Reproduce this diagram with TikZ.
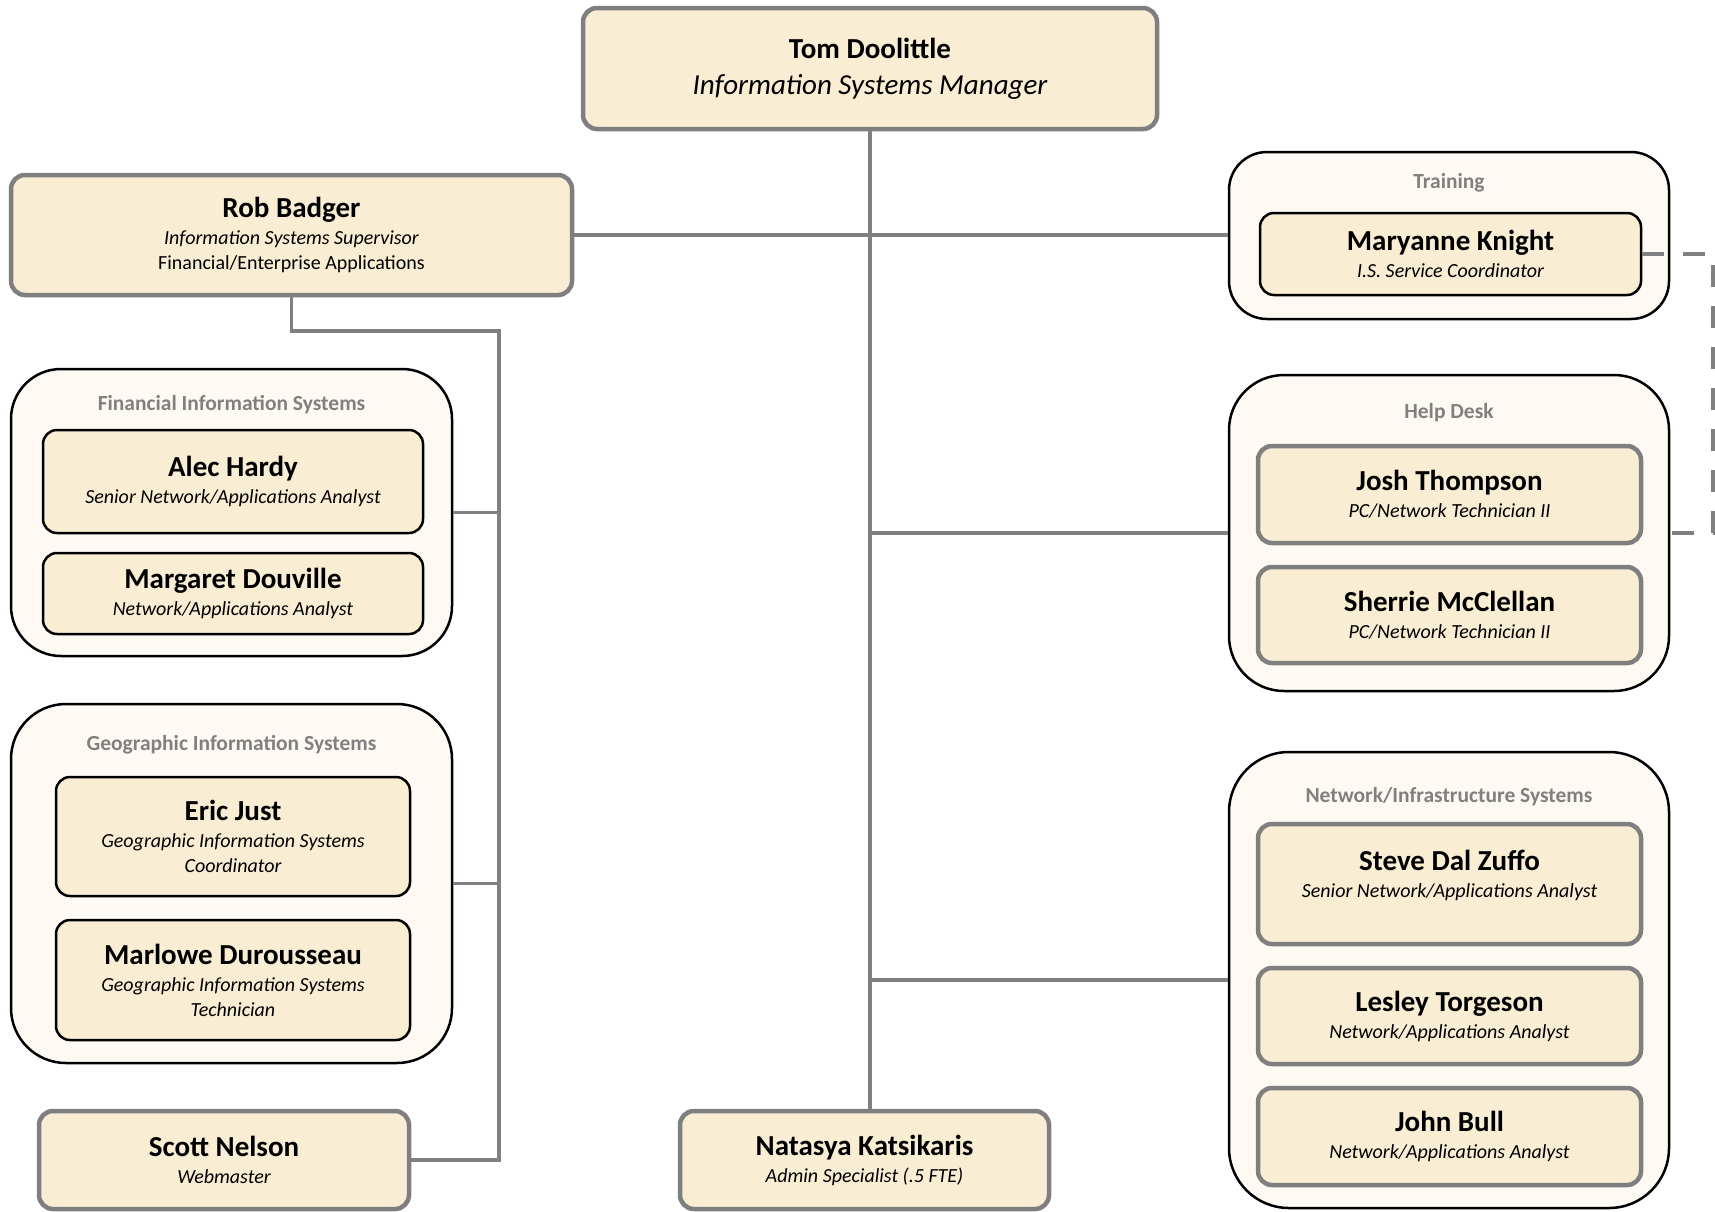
\documentclass[tikz,border=0pt]{standalone}
\usepackage{fontspec}
\setmainfont{Carlito}
\usetikzlibrary{positioning}

\definecolor{boxfill}{HTML}{F9EDD4}
\definecolor{groupfill}{HTML}{FEFAF3}
\definecolor{boxgray}{HTML}{7F7F7F}
\definecolor{linegray}{HTML}{808080}
\definecolor{labelgray}{HTML}{808080}

\begin{document}
\begin{tikzpicture}[x=1pt,y=-1pt,
    person/.style={draw=boxgray,line width=4.5pt,fill=boxfill,rounded corners=14pt,
      inner sep=0pt,align=center,font=\fontsize{20}{27}\selectfont},
    personb/.style={person,draw=black,line width=2.5pt},
    group/.style={draw=black,line width=2.5pt,fill=groupfill,inner sep=0pt},
    grouplabel/.style={text=labelgray,font=\fontsize{21.5}{24}\selectfont\bfseries},
    link/.style={draw=linegray,line width=3.3pt},
    dashlink/.style={link,line width=4pt,dash pattern=on 22pt off 19pt}]
  \useasboundingbox (0,0) rectangle (1715,1211);

  % manager and supervisor
  \node[person,minimum width=574,minimum height=121,font=\fontsize{29}{36}\selectfont] (tom) at (870,68.5)
    {{\bfseries Tom Doolittle}\\ {\itshape Information Systems Manager}};
  \node[person,minimum width=561,minimum height=120] (rob) at (291.5,235)
    {{\fontsize{29}{30}\selectfont\bfseries Rob Badger}\\ {\itshape Information Systems Supervisor}\\[-2pt] Financial/Enterprise Applications};

  % groups on the left
  \node[group,rounded corners=50pt,minimum width=441,minimum height=287] (fis) at (231.5,512.5) {};
  \node[grouplabel] (fislabel) at (231.5,405) {Financial Information Systems};
  \node[personb,minimum width=380,minimum height=103] (alec) at (233,481.5)
    {{\fontsize{29}{30}\selectfont\bfseries Alec Hardy}\\ {\itshape Senior Network/Applications Analyst}};
  \node[personb,minimum width=380,minimum height=81] (margaret) at (233,593.5)
    {{\fontsize{29}{30}\selectfont\bfseries Margaret Douville}\\ {\itshape Network/Applications Analyst}};

  \node[group,rounded corners=55pt,minimum width=441,minimum height=359] (gis) at (231.5,883.5) {};
  \node[grouplabel] (gislabel) at (231.5,745) {Geographic Information Systems};
  \node[personb,minimum width=354,minimum height=119] (eric) at (233,836.5)
    {{\fontsize{29}{30}\selectfont\bfseries Eric Just}\\ {\itshape Geographic Information Systems}\\[-2pt] {\itshape Coordinator}};
  \node[personb,minimum width=354,minimum height=120] (marlowe) at (233,980)
    {{\fontsize{29}{30}\selectfont\bfseries Marlowe Durousseau}\\ {\itshape Geographic Information Systems}\\[-2pt] {\itshape Technician}};

  \node[person,minimum width=370,minimum height=98] (scott) at (224,1160)
    {{\fontsize{29}{30}\selectfont\bfseries Scott Nelson}\\ {\itshape Webmaster}};
  \node[person,minimum width=369,minimum height=98] (natasya) at (864.5,1160)
    {{\fontsize{29}{30}\selectfont\bfseries Natasya Katsikaris}\\ {\itshape Admin Specialist (.5 FTE)}};

  % groups on the right
  \node[group,rounded corners=38pt,minimum width=440,minimum height=167] (training) at (1449,235.5) {};
  \node[grouplabel] (traininglabel) at (1449,183) {Training};
  \node[personb,minimum width=381,minimum height=82] (maryanne) at (1450.5,254)
    {{\fontsize{29}{30}\selectfont\bfseries Maryanne Knight}\\ {\itshape I.S. Service Coordinator}};

  \node[group,rounded corners=55pt,minimum width=440,minimum height=316] (helpdesk) at (1449,533) {};
  \node[grouplabel] (helpdesklabel) at (1449,413) {Help Desk};
  \node[person,minimum width=383,minimum height=97] (josh) at (1449.5,494.5)
    {{\fontsize{29}{30}\selectfont\bfseries Josh Thompson}\\ {\itshape PC/Network Technician II}};
  \node[person,minimum width=383,minimum height=96] (sherrie) at (1449.5,615)
    {{\fontsize{29}{30}\selectfont\bfseries Sherrie McClellan}\\ {\itshape PC/Network Technician II}};

  \node[group,rounded corners=60pt,minimum width=440,minimum height=456] (nis) at (1449,980) {};
  \node[grouplabel] (nislabel) at (1449,797) {Network/Infrastructure Systems};
  \node[person,minimum width=383,minimum height=120] (steve) at (1449.5,884)
    {{\fontsize{29}{30}\selectfont\bfseries Steve Dal Zuffo}\\ {\itshape Senior Network/Applications Analyst}\\[-14pt] \strut};
  \node[person,minimum width=383,minimum height=96] (lesley) at (1449.5,1016)
    {{\fontsize{29}{30}\selectfont\bfseries Lesley Torgeson}\\ {\itshape Network/Applications Analyst}};
  \node[person,minimum width=383,minimum height=97] (john) at (1449.5,1136.5)
    {{\fontsize{29}{30}\selectfont\bfseries John Bull}\\ {\itshape Network/Applications Analyst}};

  \coordinate (bus) at (499,331);
  \coordinate (dashcorner) at (1713,254);

  \begin{scope}[-]
    \draw[link] (tom.south) -- (tom.south |- natasya.north);
    \draw[link] (rob.east) -- (rob.east -| training.west);
    \draw[link] (tom.south |- helpdesk.west) -- (helpdesk.west);
    \draw[link] (tom.south |- nis.west) -- (nis.west);
    \draw[link] (rob.south) |- (bus) -- (bus |- scott.east) -- (scott.east);
    \draw[link] (fis.east) -- (fis.east -| bus);
    \draw[link] (gis.east) -- (gis.east -| bus);
    \draw[dashlink] (maryanne.east) -- (dashcorner) |- (helpdesk.east);
  \end{scope}
\end{tikzpicture}
\end{document}
